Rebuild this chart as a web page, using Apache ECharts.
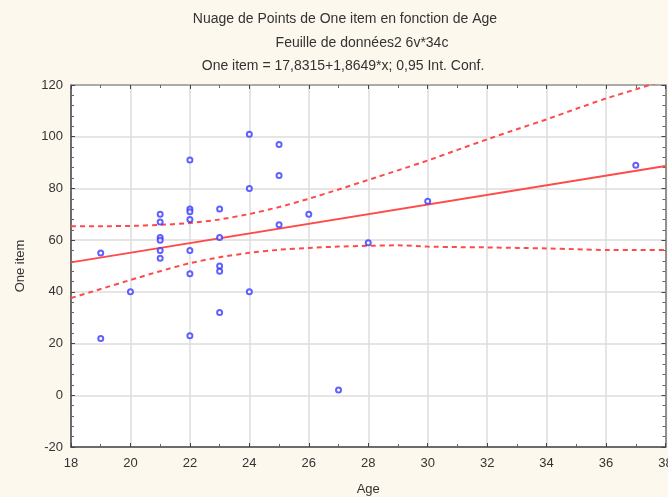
<!DOCTYPE html>
<html>
<head>
<meta charset="utf-8">
<script src="https://cdn.jsdelivr.net/npm/echarts@6/dist/echarts.min.js"></script>
<style>
html,body{margin:0;padding:0;background:#fdf8ed;}
#main{width:668px;height:497px;}
</style>
</head>
<body>
<div id="main"></div>
<script>
// Observed points: [Age, One item]
const ages =   [19, 19, 20, 21, 21, 21, 21, 21, 21, 22, 22, 22, 22, 22, 22, 22, 23, 23, 23, 23, 23, 24, 24, 24, 25, 25, 25, 26, 27, 28, 30, 37];
const scores = [55, 22, 40, 70, 67, 61, 60, 56, 53, 91, 72, 71, 68, 56, 47, 23, 72, 61, 50, 48, 32, 101, 80, 40, 97, 85, 66, 70, 2, 59, 75, 89];

// Fitted line end points (One item = 17,8315 + 1,8649*x)
const fitAges = [18, 38];
const fitValues = [51.4, 88.7];

// 0,95 confidence band
const bandAges =  [18, 19, 20, 21, 22, 23, 24, 25, 26, 27, 28, 29, 30, 31, 32, 33, 34, 35, 36, 37, 38];
const bandUpper = [65.4, 65.4, 65.5, 65.9, 66.6, 68.0, 70.1, 72.8, 76, 79.6, 83.3, 87, 90.8, 94.9, 99, 102.9, 106.7, 110.8, 114.8, 118.3, 122];
const bandLower = [37.6, 41.1, 44.6, 48, 51.1, 53.4, 55.1, 56.3, 57.0, 57.5, 57.8, 58, 57.5, 57.3, 57.2, 57, 56.8, 56.5, 56.2, 56.2, 56.2];

const titleLines = [
  'Nuage de Points de One item en fonction de Age',
  'Feuille de données2 6v*34c',
  'One item = 17,8315+1,8649*x; 0,95 Int. Conf.'
];
const xTitle = 'Age';
const yTitle = 'One item';

const zip = (a, b) => a.map((v, i) => [v, b[i]]);
const FONT = 'Liberation Sans, Arial, sans-serif';

const chart = echarts.init(document.getElementById('main'));
const tick = {show: true, inside: true, length: 4, lineStyle: {color: '#444'}};
const titleStyle = {fontFamily: FONT, fontSize: 14, fontWeight: 'normal', color: '#333'};
chart.setOption({
  backgroundColor: '#fdf8ed',
  animation: false,
  title: [
    {text: titleLines[0], left: 340, top: 7, textAlign: 'center', textStyle: titleStyle},
    {text: titleLines[1], left: 357, top: 31, textAlign: 'center', textStyle: titleStyle},
    {text: titleLines[2], left: 338, top: 54, textAlign: 'center', textStyle: titleStyle}
  ],
  grid: {left: 71, right: 2.5, top: 85, bottom: 50, show: true, backgroundColor: '#ffffff', borderWidth: 0,
         containLabel: false, outerBoundsMode: 'none'},
  xAxis: [
    {
      type: 'value', min: 18, max: 38, interval: 2, position: 'bottom',
      axisLine: {show: true, onZero: false, lineStyle: {color: '#444', width: 1.5}},
      axisTick: tick,
      minorTick: {show: true, splitNumber: 2, length: 3, lineStyle: {color: '#666'}},
      splitLine: {show: true, lineStyle: {color: '#dcdcdc', width: 1.5}},
      axisLabel: {fontFamily: FONT, fontSize: 13, color: '#333', margin: 10},
      name: xTitle, nameLocation: 'middle', nameGap: 36,
      nameTextStyle: {fontFamily: FONT, fontSize: 13, color: '#333'}
    },
    {
      type: 'value', min: 18, max: 38, interval: 2, position: 'top',
      axisLine: {show: true, onZero: false, lineStyle: {color: '#999', width: 1.5}},
      axisTick: tick,
      minorTick: {show: true, splitNumber: 2, length: 3, lineStyle: {color: '#666'}},
      splitLine: {show: false}, axisLabel: {show: false}
    }
  ],
  yAxis: [
    {
      type: 'value', min: -20, max: 120, interval: 20, position: 'left',
      axisLine: {show: true, onZero: false, lineStyle: {color: '#444', width: 1.5}},
      axisTick: tick,
      minorTick: {show: true, splitNumber: 5, length: 3, lineStyle: {color: '#666'}},
      splitLine: {show: true, lineStyle: {color: '#dcdcdc', width: 1.5}},
      axisLabel: {fontFamily: FONT, fontSize: 13, color: '#333', margin: 8},
      name: yTitle, nameLocation: 'middle', nameGap: 44,
      nameTextStyle: {fontFamily: FONT, fontSize: 13, color: '#333'}
    },
    {
      type: 'value', min: -20, max: 120, interval: 20, position: 'right',
      axisLine: {show: true, onZero: false, lineStyle: {color: '#777', width: 1.5}},
      axisTick: tick,
      minorTick: {show: true, splitNumber: 5, length: 3, lineStyle: {color: '#666'}},
      splitLine: {show: false}, axisLabel: {show: false}
    }
  ],
  series: [
    {type: 'line', data: zip(bandAges, bandUpper), showSymbol: false, smooth: 0.2, clip: true,
     lineStyle: {color: '#ff4a4a', width: 2, type: [5, 4]}, z: 3},
    {type: 'line', data: zip(bandAges, bandLower), showSymbol: false, smooth: 0.2, clip: true,
     lineStyle: {color: '#ff4a4a', width: 2, type: [5, 4]}, z: 3},
    {type: 'line', data: zip(fitAges, fitValues), showSymbol: false, clip: true,
     lineStyle: {color: '#ff4a4a', width: 2}, z: 3},
    {type: 'scatter', data: zip(ages, scores), symbol: 'emptyCircle', symbolSize: 5,
     itemStyle: {color: '#3a3aff', borderWidth: 1.6}, z: 4}
  ]
});
</script>
</body>
</html>
